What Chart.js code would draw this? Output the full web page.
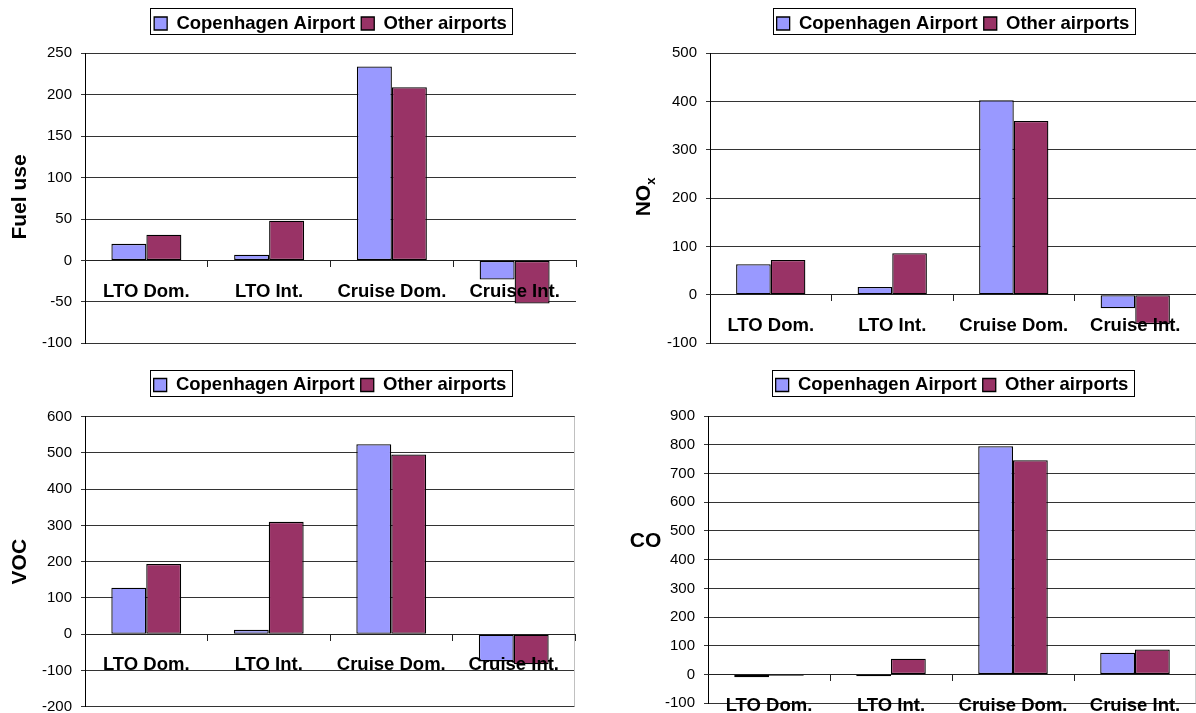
<!DOCTYPE html>
<html>
<head>
<meta charset="utf-8">
<script src="https://cdn.jsdelivr.net/npm/chart.js@4.4.1/dist/chart.umd.min.js"></script>
<style>
  html, body { margin: 0; padding: 0; background: #fff; }
  #wrap { position: relative; width: 1196px; height: 713px; overflow: hidden; }
  canvas { position: absolute; }
</style>
</head>
<body>
<div id="wrap">
  <canvas id="fuel" width="598" height="357" style="left:0;top:0"></canvas>
  <canvas id="nox" width="598" height="357" style="left:598px;top:0"></canvas>
  <canvas id="voc" width="598" height="356" style="left:0;top:357px"></canvas>
  <canvas id="co" width="598" height="356" style="left:598px;top:357px"></canvas>
</div>
<script>
// Emission categories and the two airport groups
const categories = ['LTO Dom.', 'LTO Int.', 'Cruise Dom.', 'Cruise Int.'];
const seriesNames = ['Copenhagen Airport', 'Other airports'];

// Fuel use
const fuelCopenhagen = [20, 7, 234, -23];
const fuelOther = [31, 48, 209, -52];
const fuelTicks = [-100, -50, 0, 50, 100, 150, 200, 250];

// NOx
const noxCopenhagen = [63, 16, 403, -28];
const noxOther = [72, 86, 360, -61];
const noxTicks = [-100, 0, 100, 200, 300, 400, 500];

// VOC
const vocCopenhagen = [128, 12, 524, -75];
const vocOther = [194, 310, 496, -83];
const vocTicks = [-200, -100, 0, 100, 200, 300, 400, 500, 600];

// CO
const coCopenhagen = [-9, -6, 795, 76];
const coOther = [-4, 55, 746, 87];
const coTicks = [-100, 0, 100, 200, 300, 400, 500, 600, 700, 800, 900];

const FONT = "'Liberation Sans', Arial, Helvetica, sans-serif";
Chart.defaults.font.family = FONT;
Chart.defaults.color = '#000';

// Adds extra room between the legend row and the plot area
const legendSpacer = {
  id: 'legendSpacer',
  beforeLayout(chart, args, opts) {
    const lg = chart.legend;
    if (!lg || lg.__spaced) return;
    const fit = lg.fit;
    lg.fit = function () {
      fit.call(this);
      this.height += opts.gap || 0;
    };
    lg.__spaced = true;
  }
};

// Thin frame around the legend items
const legendFrame = {
  id: 'legendFrame',
  afterDraw(chart) {
    const boxes = chart.legend && chart.legend.legendHitBoxes;
    if (!boxes || !boxes.length) return;
    const l = Math.min(...boxes.map(b => b.left)) - 4;
    const r = Math.max(...boxes.map(b => b.left + b.width)) + 5;
    const t = boxes[0].top - 6;
    const b = boxes[0].top + boxes[0].height + 1;
    const ctx = chart.ctx;
    ctx.save();
    ctx.strokeStyle = '#000';
    ctx.lineWidth = 1;
    ctx.strokeRect(Math.round(l) + 0.5, Math.round(t) + 0.5, Math.round(r - l), Math.round(b - t));
    ctx.restore();
  }
};

// Value-axis caption, optionally rotated and with a subscript
const axisCaption = {
  id: 'axisCaption',
  afterDraw(chart, args, o) {
    if (!o.text) return;
    const ctx = chart.ctx;
    const mainFont = `bold ${o.size}px ${FONT}`;
    const subFont = `bold ${Math.round(o.size * 0.62)}px ${FONT}`;
    ctx.save();
    ctx.fillStyle = '#000';
    ctx.textBaseline = 'middle';
    ctx.textAlign = 'left';
    ctx.font = mainFont;
    const mainW = ctx.measureText(o.text).width;
    let subW = 0;
    if (o.sub) { ctx.font = subFont; subW = ctx.measureText(o.sub).width; }
    ctx.translate(o.x, o.y);
    if (o.rotate) ctx.rotate(-Math.PI / 2);
    const start = -(mainW + subW) / 2;
    ctx.font = mainFont;
    ctx.fillText(o.text, start, 0);
    if (o.sub) {
      ctx.font = subFont;
      ctx.fillText(o.sub, start + mainW, o.size * 0.32);
    }
    ctx.restore();
  }
};

// Light right-hand edge of the plot area
const plotEdge = {
  id: 'plotEdge',
  beforeDatasetsDraw(chart, args, o) {
    if (!o.color) return;
    const {top, bottom, right} = chart.chartArea;
    const ctx = chart.ctx;
    ctx.save();
    ctx.strokeStyle = o.color;
    ctx.lineWidth = 1;
    const x = Math.round(right) - 0.5;
    ctx.beginPath();
    ctx.moveTo(x, top);
    ctx.lineTo(x, bottom);
    ctx.stroke();
    ctx.restore();
  }
};

function makeChart(id, cph, other, ticks, panel) {
  const step = ticks[1] - ticks[0];
  return new Chart(document.getElementById(id), {
    type: 'bar',
    data: {
      labels: categories,
      datasets: [
        { label: seriesNames[0], data: cph, backgroundColor: '#9999FF',
          borderColor: '#000', borderWidth: 1.3, borderSkipped: false },
        { label: seriesNames[1], data: other, backgroundColor: '#993366',
          borderColor: '#000', borderWidth: 1.3, borderSkipped: false }
      ]
    },
    options: {
      responsive: false,
      animation: false,
      events: [],
      categoryPercentage: 0.57,
      barPercentage: 1,
      layout: { autoPadding: false, padding: panel.padding },
      scales: {
        x: {
          position: { y: 0 },
          offset: true,
          grid: { display: true, drawOnChartArea: false, drawTicks: true,
                  tickLength: 6, color: '#222', offset: true },
          border: { display: true, color: '#222', width: 1, z: 1 },
          ticks: { z: 1, color: '#000', font: { size: 18.5, weight: 'bold' }, padding: 14,
                   maxRotation: 0, minRotation: 0, autoSkip: false },
          afterFit(s) { s.height = 0; }
        },
        y: {
          min: ticks[0],
          max: ticks[ticks.length - 1],
          ticks: { stepSize: step, color: '#000', font: { size: 15 }, padding: 9 },
          grid: { color: '#333', lineWidth: 1, tickLength: 4, drawTicks: true },
          border: { display: true, color: '#000', width: 1 },
          afterFit(s) {
            s.width = panel.yWidth;
            s.paddingTop = 0;
            s.paddingBottom = 0;
          }
        }
      },
      plugins: {
        tooltip: { enabled: false },
        legend: {
          display: true,
          position: 'top',
          fullSize: false,
          labels: { boxWidth: 13, boxHeight: 13, padding: 6, color: '#000',
                    font: { size: 18.5, weight: 'bold' } }
        },
        legendSpacer: { gap: panel.gap },
        axisCaption: panel.caption,
        plotEdge: { color: panel.edge || null }
      }
    },
    plugins: [legendSpacer, legendFrame, axisCaption, plotEdge]
  });
}

makeChart('fuel', fuelCopenhagen, fuelOther, fuelTicks, {
  yWidth: 85, gap: 10.55,
  padding: { top: 8.25, right: 22, bottom: 13.7, left: 0 },
  caption: { text: 'Fuel use', x: 20, y: 197, rotate: true, size: 21 }
});

makeChart('nox', noxCopenhagen, noxOther, noxTicks, {
  yWidth: 112, gap: 10.55,
  padding: { top: 8.25, right: 0, bottom: 14, left: 0 },
  caption: { text: 'NO', sub: 'x', x: 46.5, y: 197, rotate: true, size: 21 }
});

makeChart('voc', vocCopenhagen, vocOther, vocTicks, {
  yWidth: 85, gap: 12.45,
  padding: { top: 12.75, right: 23, bottom: 6.3, left: 0 },
  caption: { text: 'VOC', x: 20, y: 204.7, rotate: true, size: 21 },
  edge: '#c0c0c0'
});

makeChart('co', coCopenhagen, coOther, coTicks, {
  yWidth: 110, gap: 11.75,
  padding: { top: 12.75, right: 0, bottom: 9.7, left: 0 },
  caption: { text: 'CO', x: 47.6, y: 184.7, rotate: false, size: 21 },
  edge: '#d0d0d0'
});
</script>
</body>
</html>
